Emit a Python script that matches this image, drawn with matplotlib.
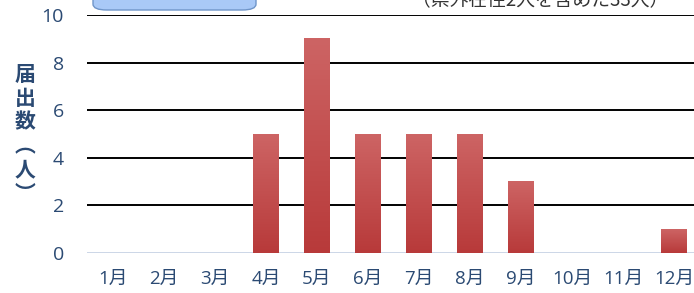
import numpy as np
import matplotlib
matplotlib.use('Agg')
import matplotlib.pyplot as plt
from matplotlib.patches import FancyBboxPatch
from matplotlib.colors import LinearSegmentedColormap

plt.rcParams['font.family'] = ['Open Sans', 'Noto Sans CJK JP', 'DejaVu Sans']

MONTHS = ['1月', '2月', '3月', '4月', '5月', '6月', '7月', '8月', '9月', '10月', '11月', '12月']
COUNTS = [0, 0, 0, 5, 9, 5, 5, 5, 3, 0, 0, 1]
YTICKS = [0, 2, 4, 6, 8, 10]
NOTE = '（県外在住2人を含めた33人）'
YLABEL = '届出数︵人︶'   # vertical-form brackets, stacked one char per line

W, H = 694, 293
fig = plt.figure(figsize=(W / 100, H / 100), dpi=100)

# axes: x from 87px to ~699px (cut off at right), y from 253px (0) to 15px (10)
left, right = 87.4, 699.5
bottom, top = 253, 15
ax = fig.add_axes([left / W, 1 - bottom / H, (right - left) / W, (bottom - top) / H])

x = np.arange(1, len(MONTHS) + 1)
bars = ax.bar(x, COUNTS, width=0.5, color='#c24d4b', zorder=3)

# vertical gradient on each bar
cmap = LinearSegmentedColormap.from_list('redgrad', ['#b83a3a', '#cd6464'])
grad = np.linspace(0, 1, 100).reshape(-1, 1)
for b in bars:
    if b.get_height() <= 0:
        continue
    bx, by = b.get_x(), b.get_y()
    bw, bh = b.get_width(), b.get_height()
    ax.imshow(grad, cmap=cmap, origin='lower', aspect='auto',
              extent=[bx, bx + bw, by, by + bh], zorder=4)
    b.set_visible(False)

ax.set_xlim(0.5, 12.5)
ax.set_ylim(0, 10)
ax.set_yticks(YTICKS)
ax.set_xticks(x)
ax.set_xticklabels(MONTHS)

for yv in YTICKS[1:]:
    ax.axhline(yv, color='black', lw=1.4, zorder=2)
ax.axhline(0, color='#c3d0e3', lw=1.2, zorder=2)

for s in ax.spines.values():
    s.set_visible(False)
ax.tick_params(axis='both', length=0, colors='#2b4a73')
ax.tick_params(axis='y', pad=17, labelsize=14)
ax.tick_params(axis='x', pad=12, labelsize=13.5)

# y label as stacked characters
fig.text(25 / W, 1 - 134 / H, '\n'.join(YLABEL), ha='center', va='center',
         fontsize=15, fontweight='bold', color='#2b4a73',
         family=['Noto Sans CJK JP'], linespacing=1.17)

# note at top right (cut off by figure edge, as in the source image)
fig.text(540 / W, 1 - 1 / H, NOTE, ha='center', va='center', fontsize=13.5,
         color='#333333', family=['Noto Sans CJK JP'])

# blue box at top left (cut off)
box = FancyBboxPatch((93 / W, 1 - 10 / H), 163 / W, 30 / H,
                     boxstyle='round,pad=0,rounding_size=0.02',
                     transform=fig.transFigure, facecolor='#a9c9f7',
                     edgecolor='#6f95c9', lw=1.0, zorder=10)
fig.patches.append(box)

fig.savefig('out.png', dpi=100)
